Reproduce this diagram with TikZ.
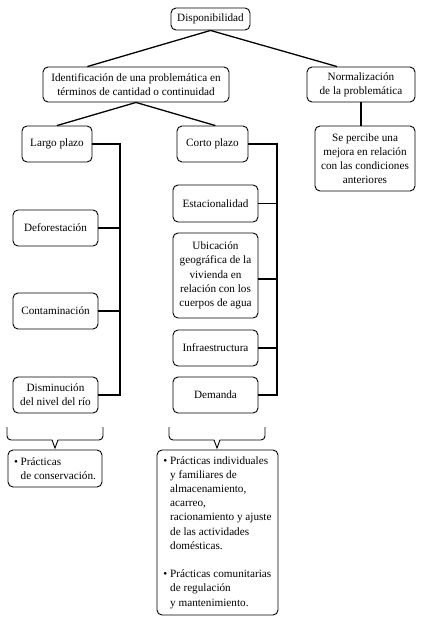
\documentclass[tikz,border=0pt]{standalone}
\usepackage{fontspec}
\setmainfont{Liberation Serif}
\usetikzlibrary{calc}
\begin{document}
\begin{tikzpicture}[x=1pt,y=-1pt,
  box/.style={draw, rounded corners=5pt, line width=0.9pt, align=center, inner sep=0pt,
    font=\fontsize{11.2}{14.2}\selectfont},
  conn/.style={line width=1.3pt},
  brc/.style={line width=0.9pt, line join=miter}]
\useasboundingbox (0,0) rectangle (421,619);
\node[box, minimum width=79, minimum height=22] (disp) at (210.5,19) {Disponibilidad};
\node[box, minimum width=186, minimum height=35] (ident) at (136,84.5) {Identificación de una problemática en\\términos de cantidad o continuidad};
\node[box, minimum width=108, minimum height=35] (norm) at (361,84.5) {Normalización\\de la problemática};
\node[box, minimum width=70, minimum height=36] (largo) at (57,144) {Largo plazo};
\node[box, minimum width=71, minimum height=36] (corto) at (212.5,144) {Corto plazo};
\node[box, minimum width=100, minimum height=65] (perc) at (365,158.5) {Se percibe una\\mejora en relación\\con las condiciones\\anteriores};
\node[box, minimum width=85, minimum height=36] (defo) at (55.5,228) {Deforestación};
\node[box, minimum width=85, minimum height=36] (conta) at (55.5,311) {Contaminación};
\node[box, minimum width=85, minimum height=36] (dismi) at (55.5,395) {Disminución\\del nivel del río};
\node[box, minimum width=85, minimum height=37] (esta) at (215.5,203.5) {Estacionalidad};
\node[box, minimum width=85, minimum height=85] (ubic) at (215.5,275.5) {Ubicación\\geográfica de la\\vivienda en\\relación con los\\cuerpos de agua};
\node[box, minimum width=85, minimum height=36] (infra) at (215.5,348) {Infraestructura};
\node[box, minimum width=85, minimum height=36] (dema) at (215.5,395) {Demanda};
\node[box, align=left, minimum width=94, minimum height=37] (cons) at (55,468.5) {\textbullet\ Prácticas\\\phantom{\textbullet\ }de conservación.};
\node[box, align=left, minimum width=121, minimum height=165] (big) at (217.5,532.5) {%
\textbullet\ Prácticas individuales\\
\phantom{\textbullet\ }y familiares de\\
\phantom{\textbullet\ }almacenamiento,\\
\phantom{\textbullet\ }acarreo,\\
\phantom{\textbullet\ }racionamiento y ajuste\\
\phantom{\textbullet\ }de las actividades\\
\phantom{\textbullet\ }domésticas.\\[14.2pt]
\textbullet\ Prácticas comunitarias\\
\phantom{\textbullet\ }de regulación\\
\phantom{\textbullet\ }y mantenimiento.};
% connectors
\draw[conn] (disp.south) -- ($(ident.north west)!0.24!(ident.north east)$);
\draw[conn] (disp.south) -- ($(norm.north west)!0.28!(norm.north east)$);
\draw[conn] (ident.south) -- (largo.north);
\draw[conn] (ident.south) -- ($(corto.north west)!0.54!(corto.north east)$);
\draw[conn] (norm.south) -- (norm.south |- perc.north);
\coordinate (lbus) at (120,0);
\coordinate (cbus) at (277,0);
\draw[conn] (largo.east) -| (lbus |- dismi.east) -- (dismi.east);
\draw[conn] (defo.east) -- (defo.east -| lbus);
\draw[conn] (conta.east) -- (conta.east -| lbus);
\draw[conn] (corto.east) -| (cbus |- dema.east) -- (dema.east);
\draw[conn] (esta.east) -- (esta.east -| cbus);
\draw[conn] (ubic.east) ++(0,3.5) -- ($(ubic.east -| cbus)+(0,3.5)$);
\draw[conn] (infra.east) -- (infra.east -| cbus);
% braces
\draw[brc] (7,427) -- (7,436) arc[start angle=180,end angle=90,radius=4] -- (52,440) -- (55,448) -- (58,440) -- (99,440) arc[start angle=90,end angle=0,radius=4] -- (103,427);
\draw[brc] (169,427) -- (169,436) arc[start angle=180,end angle=90,radius=4] -- (214,440) -- (217,448) -- (220,440) -- (261,440) arc[start angle=90,end angle=0,radius=4] -- (265,427);
\end{tikzpicture}
\end{document}
